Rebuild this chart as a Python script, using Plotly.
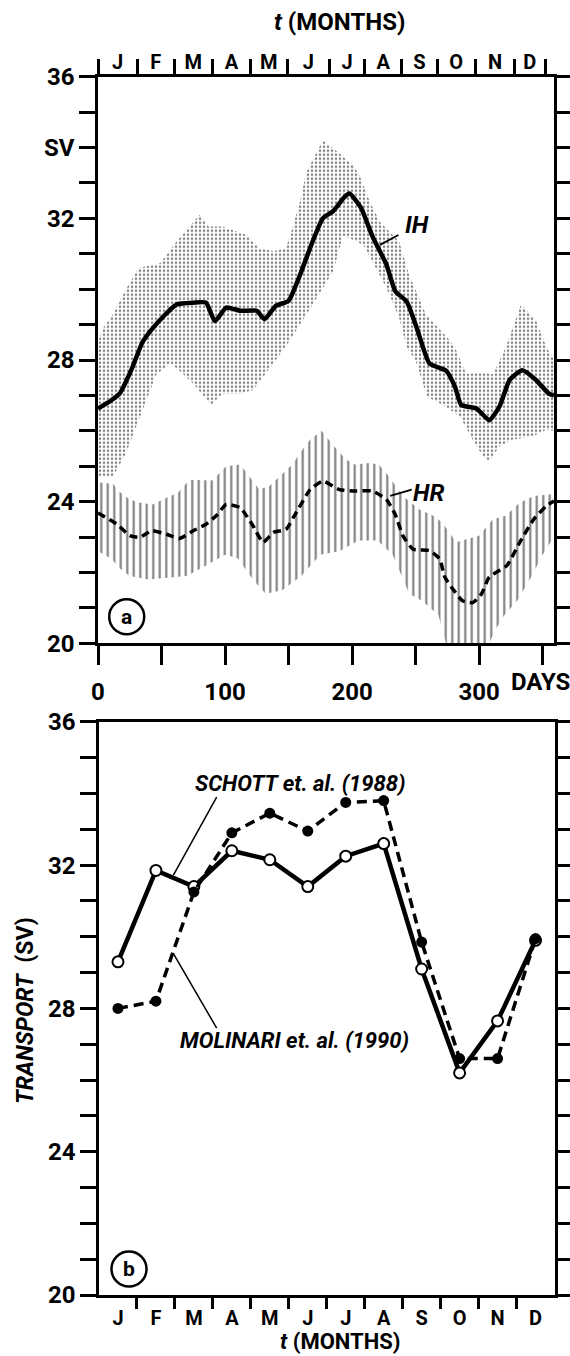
import plotly.graph_objects as go

# ---------------- panel (a): daily transports ----------------
ih_days = [0, 10, 17, 26, 35, 42, 52, 62, 75, 85, 92, 101, 112, 125, 131, 140, 150, 159, 169,
           177, 185, 194, 198, 207, 216, 227, 234, 243, 251, 261, 274, 281, 286, 298, 308, 316,
           324, 334, 345, 355, 359]
ih_sv = [26.63, 26.85, 27.05, 27.7, 28.5, 28.85, 29.25, 29.57, 29.62, 29.62, 29.1, 29.48, 29.39,
         29.39, 29.15, 29.53, 29.67, 30.4, 31.35, 32.0, 32.2, 32.6, 32.7, 32.3, 31.5, 30.7, 29.95,
         29.65, 28.9, 27.9, 27.7, 27.25, 26.73, 26.63, 26.3, 26.68, 27.43, 27.71, 27.43, 27.05, 27.0]

ih_up_days = [0, 4, 12, 22, 32, 49, 62, 80, 87, 98, 117, 127, 138, 148, 153, 159, 164, 177, 189,
              201, 206, 214, 222, 237, 245, 258, 277, 282, 290, 300, 311, 321, 333, 345, 353, 359]
ih_up_sv = [28.5, 28.9, 29.3, 30.0, 30.6, 30.74, 31.35, 32.1, 31.77, 31.77, 31.53, 31.16, 31.07,
            31.16, 31.72, 32.47, 33.3, 34.2, 33.87, 33.5, 33.2, 32.47, 31.9, 31.35, 30.4, 29.3,
            28.55, 28.27, 27.6, 27.66, 27.6, 28.36, 29.57, 29.1, 28.36, 28.0]

ih_lo_days = [0, 4, 12, 22, 33, 46, 57, 64, 75, 89, 98, 112, 122, 138, 151, 156, 174, 185, 193,
              198, 209, 216, 227, 237, 243, 250, 259, 274, 285, 295, 303, 308, 316, 326, 342, 353, 359]
ih_lo_sv = [24.68, 24.72, 24.72, 25.37, 26.4, 27.6, 27.9, 27.7, 27.33, 26.73, 27.05, 27.05, 27.15,
            27.9, 28.55, 28.83, 29.85, 30.5, 31.5, 31.44, 31.25, 30.8, 30.04, 29.2, 28.36, 27.98,
            26.96, 26.68, 26.4, 25.75, 25.28, 25.14, 25.56, 25.75, 25.84, 26.03, 26.0]

hr_days = [0, 15, 25, 33, 42, 54, 64, 75, 85, 93, 101, 112, 122, 130, 138, 148, 156, 167, 177,
           190, 203, 216, 227, 234, 240, 248, 261, 269, 273, 280, 287, 295, 302, 308, 322, 332,
           343, 353, 359]
hr_sv = [23.68, 23.36, 23.04, 22.99, 23.18, 23.08, 22.96, 23.18, 23.36, 23.6, 23.92, 23.83, 23.32,
         22.85, 23.13, 23.22, 23.69, 24.34, 24.58, 24.34, 24.3, 24.3, 24.06, 23.64, 23.04, 22.66,
         22.62, 22.38, 21.87, 21.5, 21.2, 21.15, 21.4, 21.87, 22.2, 22.85, 23.5, 23.88, 24.02]

hr_up_days = [0, 12, 16, 25, 33, 43, 54, 63, 72, 82, 90, 101, 112, 119, 127, 135, 143, 153, 161,
              167, 176, 185, 195, 202, 214, 221, 229, 240, 253, 264, 271, 282, 290, 300, 311, 321,
              332, 343, 355, 359]
hr_up_sv = [24.55, 24.5, 24.3, 24.06, 23.97, 23.92, 24.11, 24.25, 24.62, 24.6, 24.6, 25.0, 25.05,
            24.72, 24.34, 24.44, 24.7, 25.05, 25.47, 25.75, 26.0, 25.6, 25.2, 25.05, 25.09, 25.05,
            24.72, 24.16, 23.78, 23.6, 23.41, 22.85, 22.94, 23.04, 23.5, 23.6, 23.97, 24.16, 24.2, 24.2]

hr_lo_days = [0, 11, 16, 25, 40, 55, 70, 85, 100, 110, 122, 132, 145, 160, 175, 190, 205, 220,
              232, 245, 255, 268, 274, 308, 313, 320, 330, 340, 350, 359]
hr_lo_sv = [22.6, 22.38, 22.15, 21.9, 21.8, 21.85, 21.9, 22.2, 22.5, 22.4, 21.8, 21.4, 21.5, 21.9,
            22.5, 22.6, 22.9, 22.9, 22.5, 21.4, 21.2, 20.8, 20.0, 20.0, 20.4, 20.8, 21.2, 21.8,
            22.5, 23.0]

day_ticks = [0, 50, 100, 150, 200, 250, 300, 350]
day_labels = ["0", "", "100", "", "200", "", "300", ""]
month_edges_days = [0, 31, 60, 90, 120, 149, 182, 210, 239, 267, 297, 328, 352]
month_letters = ["J", "F", "M", "A", "M", "J", "J", "A", "S", "O", "N", "D"]

sv_ticks = list(range(20, 37))
sv_labels_a = {36: "36", 34: "SV", 32: "32", 28: "28", 24: "24", 20: "20"}
sv_labels_b = {36: "36", 32: "32", 28: "28", 24: "24", 20: "20"}

# ---------------- panel (b): monthly means ----------------
month_pos = [0.5 + i for i in range(12)]
schott_sv = [29.3, 31.85, 31.4, 32.4, 32.15, 31.4, 32.25, 32.6, 29.1, 26.2, 27.65, 29.9]
molinari_sv = [28.0, 28.2, 31.25, 32.9, 33.45, 32.95, 33.75, 33.8, 29.85, 26.6, 26.6, 29.95]

W, H = 570, 1356
FONT = "Roboto"


def fx(p):
    return p / W


def fy(p):
    return 1 - p / H


fig = go.Figure()

# stippled IH envelope
fig.add_trace(go.Scatter(
    x=ih_up_days + ih_lo_days[::-1], y=ih_up_sv + ih_lo_sv[::-1],
    fill="toself", mode="lines", line=dict(width=0, color="rgba(0,0,0,0)"),
    fillcolor="rgba(0,0,0,0)",
    fillpattern=dict(shape=".", size=4, solidity=0.3, fgcolor="black", bgcolor="rgba(0,0,0,0)"),
    xaxis="x", yaxis="y", hoverinfo="skip"))

# vertically hatched HR envelope
fig.add_trace(go.Scatter(
    x=hr_up_days + hr_lo_days[::-1], y=hr_up_sv + hr_lo_sv[::-1],
    fill="toself", mode="lines", line=dict(width=0, color="rgba(0,0,0,0)"),
    fillcolor="rgba(0,0,0,0)",
    fillpattern=dict(shape="|", size=6.5, solidity=0.33, fgcolor="black", bgcolor="rgba(0,0,0,0)"),
    xaxis="x", yaxis="y", hoverinfo="skip"))

fig.add_trace(go.Scatter(x=ih_days, y=ih_sv, mode="lines",
                         line=dict(color="black", width=4.5, shape="spline", smoothing=0.5),
                         xaxis="x", yaxis="y"))
fig.add_trace(go.Scatter(x=hr_days, y=hr_sv, mode="lines",
                         line=dict(color="black", width=3.5, dash="8px,5px", shape="spline", smoothing=0.5),
                         xaxis="x", yaxis="y"))
# carrier for the month axis on top of panel (a)
fig.add_trace(go.Scatter(x=[0], y=[20], mode="markers", marker=dict(opacity=0),
                         xaxis="x3", yaxis="y", hoverinfo="skip"))

# panel (b)
fig.add_trace(go.Scatter(x=month_pos, y=schott_sv, mode="lines+markers",
                         line=dict(color="black", width=4.5),
                         marker=dict(symbol="circle", size=11, color="white",
                                     line=dict(color="black", width=2)),
                         xaxis="x2", yaxis="y2"))
fig.add_trace(go.Scatter(x=month_pos, y=molinari_sv, mode="lines+markers",
                         line=dict(color="black", width=3.5, dash="10px,6px"),
                         marker=dict(symbol="circle", size=11, color="black"),
                         xaxis="x2", yaxis="y2"))

BOLD = dict(family=FONT, size=24, color="black", weight="bold")
axis_common = dict(showline=True, linecolor="black", linewidth=2.5, showgrid=False,
                   zeroline=False, tickcolor="black", tickwidth=2.5, automargin=False,
                   tickfont=BOLD)
MONTH_FONT = dict(family=FONT, size=20, color="black", weight="bold")

month_centers_days = [(a + b) / 2 for a, b in zip(month_edges_days[:-1], month_edges_days[1:])]

fig.update_layout(
    width=W, height=H, margin=dict(l=0, r=0, t=0, b=0, autoexpand=False),
    plot_bgcolor="white", paper_bgcolor="white", showlegend=False,
    font=dict(family=FONT, color="black", size=24),
    xaxis=dict(domain=[fx(98), fx(554)], range=[0, 359], anchor="y",
               tickmode="array", tickvals=day_ticks, ticktext=day_labels,
               ticks="outside", ticklen=19, mirror=True, ticklabelstandoff=6, **axis_common),
    xaxis3=dict(overlaying="x", anchor="y", side="top", range=[0, 359],
                tickmode="array", tickvals=month_centers_days, ticktext=month_letters,
                ticks="", showline=False, showgrid=False, zeroline=False, automargin=False,
                tickfont=MONTH_FONT, ticklabelstandoff=3,
                minor=dict(tickmode="array", tickvals=month_edges_days, ticks="outside",
                           ticklen=17, tickwidth=2.5, tickcolor="black")),
    yaxis=dict(domain=[fy(643.3), fy(76.7)], range=[20, 36], anchor="x",
               tickmode="array", tickvals=sv_ticks,
               ticktext=[sv_labels_a.get(v, "") for v in sv_ticks],
               ticks="outside", ticklen=16, mirror="ticks", **axis_common),
    xaxis2=dict(domain=[fx(99), fx(554.5)], range=[0, 12], anchor="y2",
                tickmode="array", tickvals=month_pos, ticktext=month_letters,
                ticks="", mirror=True, ticklabelstandoff=3,
                minor=dict(tickmode="array", tickvals=list(range(1, 12)), ticks="outside",
                           ticklen=11, tickwidth=2.5, tickcolor="black"),
                **{**axis_common, "tickfont": MONTH_FONT}),
    yaxis2=dict(domain=[fy(1295), fy(721.8)], range=[20, 36], anchor="x2",
                tickmode="array", tickvals=sv_ticks,
                ticktext=[sv_labels_b.get(v, "") for v in sv_ticks],
                ticks="outside", ticklen=16, mirror="ticks", **axis_common),
)


def label(text, x, y, xref="paper", yref="paper", size=24, **kw):
    return dict(text=text, x=x, y=y, xref=xref, yref=yref, showarrow=False,
                xanchor="center", yanchor="middle",
                font=dict(family=FONT, size=size, color="black", weight="bold"), **kw)


ann = [
    label("<i>t</i> (MONTHS)", fx(339), fy(22)),
    label("<i>t</i> (MONTHS)", fx(340), fy(1341), size=22),
    label("DAYS", fx(540), fy(682)),
    label("<i>IH</i>", 251, 31.82, "x", "y"),
    label("<i>HR</i>", 260, 24.25, "x", "y"),
    label("<i>SCHOTT et. al. (1988)</i>", 5.32, 34.29, "x2", "y2", size=22),
    label("<i>MOLINARI et. al. (1990)</i>", 5.16, 27.11, "x2", "y2", size=22),
    label("<i>TRANSPORT</i>  (SV)", fx(25), fy(1011), size=23, textangle=-90),
    label("a", fx(126.7), fy(616.7), size=21),
    label("b", fx(129), fy(1269), size=21),
]
fig.update_layout(annotations=ann)

shapes = []
for cx, cy in [(126.7, 616.7), (129, 1269)]:
    r = 17.5
    shapes.append(dict(type="circle", xref="paper", yref="paper",
                       x0=fx(cx - r), x1=fx(cx + r), y0=fy(cy + r), y1=fy(cy - r),
                       line=dict(color="black", width=2.5)))
# leader lines from labels to curves
shapes.append(dict(type="line", xref="x", yref="y", x0=222, y0=31.25, x1=236.5, y1=31.53,
                   line=dict(color="black", width=1.8)))
shapes.append(dict(type="line", xref="x", yref="y", x0=230, y0=24.16, x1=247, y1=24.34,
                   line=dict(color="black", width=1.8)))
shapes.append(dict(type="line", xref="x2", yref="y2", x0=1.96, y0=31.72, x1=3.10, y1=33.9,
                   line=dict(color="black", width=1.5)))
shapes.append(dict(type="line", xref="x2", yref="y2", x0=1.96, y0=29.53, x1=3.10, y1=27.45,
                   line=dict(color="black", width=1.5)))
fig.update_layout(shapes=shapes)

fig.write_html("out.html")
